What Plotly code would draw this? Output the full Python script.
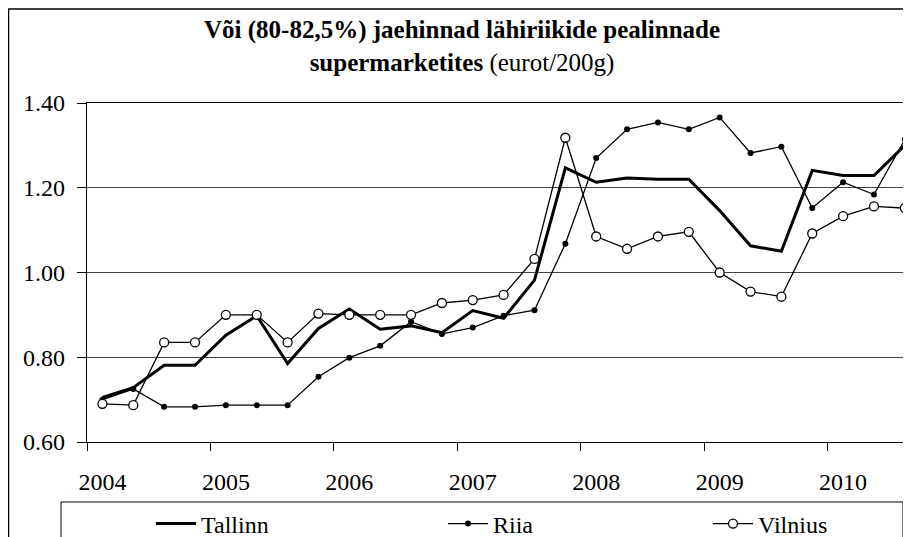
import plotly.graph_objects as go

# Quarterly observations, 2004 Q1 .. 2010 Q3
quarters = list(range(27))
year_labels = ["2004", "2005", "2006", "2007", "2008", "2009", "2010"]
year_positions = [0, 4, 8, 12, 16, 20, 24]
year_boundaries = [-0.5, 3.5, 7.5, 11.5, 15.5, 19.5, 23.5]

tallinn = [0.705, 0.728, 0.781, 0.781, 0.852, 0.898, 0.785, 0.868, 0.914, 0.866,
           0.874, 0.858, 0.910, 0.892, 0.982, 1.247, 1.213, 1.223, 1.220, 1.220,
           1.146, 1.063, 1.050, 1.241, 1.229, 1.229, 1.300]
riia = [0.700, 0.725, 0.683, 0.683, 0.687, 0.687, 0.687, 0.754, 0.799, 0.827,
        0.884, 0.855, 0.870, 0.898, 0.911, 1.068, 1.270, 1.338, 1.354, 1.338,
        1.366, 1.282, 1.297, 1.152, 1.213, 1.184, 1.314]
vilnius = [0.690, 0.687, 0.835, 0.835, 0.900, 0.900, 0.835, 0.903, 0.900, 0.900,
           0.900, 0.928, 0.935, 0.947, 1.032, 1.318, 1.085, 1.056, 1.085, 1.096,
           1.000, 0.955, 0.943, 1.092, 1.133, 1.156, 1.152]

FONT = "Times New Roman, Liberation Serif, Times, serif"
# page has an 8px body margin, so the figure is sized to fill the rest
OFF = 8
W, H = 911 - OFF, 537 - OFF
ML, MR, MT, MB = 79, 0, 95, 95
PW, PH = W - ML - MR, H - MT - MB


def px_x(p):
    """page pixel x -> paper x"""
    return (p - OFF - ML) / PW


def px_y(p):
    """page pixel y -> paper y"""
    return (H - MB - (p - OFF)) / PH


fig = go.Figure()
fig.add_trace(go.Scatter(x=quarters, y=tallinn, name="Tallinn", mode="lines",
                         line=dict(color="black", width=3), legend="legend"))
fig.add_trace(go.Scatter(x=quarters, y=riia, name="Riia", mode="lines+markers",
                         line=dict(color="black", width=1.3),
                         marker=dict(symbol="circle", size=6, color="black"),
                         legend="legend2"))
fig.add_trace(go.Scatter(x=quarters, y=vilnius, name="Vilnius", mode="lines+markers",
                         line=dict(color="black", width=1.3),
                         marker=dict(symbol="circle", size=9, color="white",
                                     line=dict(color="black", width=1.3)),
                         legend="legend3"))

leg_common = dict(orientation="h", yanchor="middle", xanchor="left",
                  bgcolor="rgba(0,0,0,0)", borderwidth=0, itemwidth=40,
                  font=dict(family=FONT, size=24, color="black"))
ly = px_y(524)

shapes = [
    # outer chart frame (left and top edges visible)
    dict(type="line", xref="paper", yref="paper", x0=px_x(8.6), x1=px_x(8.6),
         y0=px_y(560), y1=px_y(9), line=dict(color="black", width=1.3)),
    dict(type="line", xref="paper", yref="paper", x0=px_x(8), x1=px_x(930),
         y0=px_y(9), y1=px_y(9), line=dict(color="black", width=1.3)),
    # legend box
    dict(type="rect", xref="paper", yref="paper", x0=px_x(61), x1=px_x(903),
         y0=px_y(560), y1=px_y(502), line=dict(color="black", width=1)),
]

fig.add_annotation(
    text="<b>Või (80-82,5%) jaehinnad lähiriikide pealinnade<br>"
         "supermarketites</b> (eurot/200g)",
    xref="paper", yref="paper", x=px_x(462), y=px_y(46.5),
    xanchor="center", yanchor="middle", showarrow=False,
    font=dict(family=FONT, size=25, color="black"))

fig.update_layout(
    width=W, height=H,
    margin=dict(l=ML, r=MR, t=MT, b=MB, autoexpand=False),
    paper_bgcolor="white", plot_bgcolor="white",
    font=dict(family=FONT, size=24, color="black"),
    showlegend=True,
    legend=dict(x=px_x(200 - 49), y=ly, **leg_common),
    legend2=dict(x=px_x(492 - 49), y=ly, **leg_common),
    legend3=dict(x=px_x(757 - 49), y=ly, **leg_common),
    shapes=shapes,
    xaxis=dict(range=[-0.5, 26.2], tickmode="array", tickvals=year_positions,
               ticktext=year_labels, ticks="", showgrid=False, zeroline=False,
               showline=True, linecolor="black", linewidth=1.3, mirror=True,
               ticklabelstandoff=18,
               tickfont=dict(family=FONT, size=24, color="black"),
               minor=dict(tickmode="array", tickvals=year_boundaries,
                          ticks="outside", ticklen=8, tickcolor="black",
                          tickwidth=1, showgrid=False)),
    yaxis=dict(range=[0.6, 1.4], tickmode="array",
               tickvals=[0.6, 0.8, 1.0, 1.2, 1.4],
               ticktext=["0.60", "0.80", "1.00", "1.20", "1.40"],
               ticks="outside", ticklen=9, tickcolor="black", tickwidth=1,
               showgrid=True, gridcolor="#444444", gridwidth=1, zeroline=False,
               showline=True, linecolor="black", linewidth=1.3,
               ticklabelstandoff=7,
               tickfont=dict(family=FONT, size=24, color="black")),
)

fig.write_html("out.html")
